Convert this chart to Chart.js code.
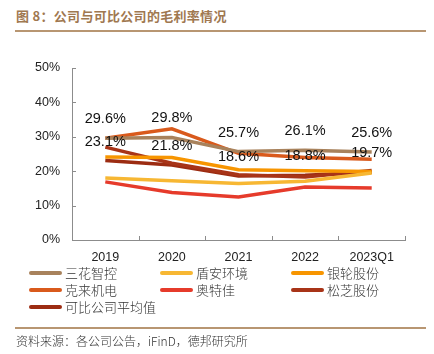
<!DOCTYPE html>
<html>
<head>
<meta charset="utf-8">
<script src="https://cdn.jsdelivr.net/npm/chart.js@4.4.1/dist/chart.umd.min.js"></script>
<style>
  body { margin: 0; background: #fff; }
  #page { position: relative; width: 434px; height: 354px; overflow: hidden; font-family: "Noto Sans CJK SC", sans-serif; }
  #title { position: absolute; left: 16px; top: 6px; font-size: 13px; color: #a07850; font-weight: bold; letter-spacing: 0.3px; }
  .rule { position: absolute; left: 15px; width: 411px; height: 2px; background: #b89672; }
  #chart { position: absolute; left: 0; top: 42px; }
  #legend { position: absolute; left: 0; top: 264px; width: 434px; }
  .item { position: absolute; font-size: 13px; color: #333; line-height: 17px; height: 17px; white-space: nowrap; font-weight: 300; }
  .item .sw { position: absolute; left: 0; top: 7px; width: 33px; height: 4px; border-radius: 2px; }
  .item span { position: absolute; left: 36px; top: 0; }
  #source { position: absolute; left: 16px; top: 332px; font-size: 12px; color: #333; font-weight: 300; }
</style>
</head>
<body>
<div id="page">
  <div id="title">图 8：公司与可比公司的毛利率情况</div>
  <div class="rule" style="top:30px"></div>
  <canvas id="chart" width="434" height="225"></canvas>
  <div id="legend"></div>
  <div class="rule" style="top:327px"></div>
  <div id="source">资料来源：各公司公告，iFinD，德邦研究所</div>
</div>
<script>
// categories
var years = ['2019', '2020', '2021', '2022', '2023Q1'];
var yTicks = [0, 10, 20, 30, 40, 50];

// gross margin (%)
var sanhua  = [29.6, 29.8, 25.7, 26.1, 25.6];
var dunan   = [18.0, 17.2, 16.4, 17.1, 19.5];
var yinlun  = [24.1, 24.0, 20.4, 20.1, 19.9];
var kelai   = [29.6, 32.3, 25.2, 24.0, 23.5];
var aotejia = [16.9, 13.8, 12.5, 15.4, 15.1];
var songzhi = [27.0, 22.3, 19.0, 18.3, 20.2];
var average = [23.1, 21.8, 18.6, 18.8, 19.7];

var names  = ['三花智控', '盾安环境', '银轮股份', '克来机电', '奥特佳', '松芝股份', '可比公司平均值'];
var colors = ['#a8825c', '#f7b733', '#f79500', '#d95a1c', '#e63b2b', '#a83418', '#9c2c12'];
var series = [sanhua, dunan, yinlun, kelai, aotejia, songzhi, average];
var labelled = [0, 6]; // series that show value labels

var datasets = [];
for (var i = 0; i < series.length; i++) {
    datasets.push({
        label: names[i],
        data: series[i],
        borderColor: colors[i],
        backgroundColor: colors[i],
        borderWidth: 3.5,
        pointRadius: 0,
        tension: 0,
        fill: false
    });
}

// legend, 3 columns
var legend = document.getElementById('legend');
var colX = [29, 160, 291];
for (var i = 0; i < names.length; i++) {
    var d = document.createElement('div');
    d.className = 'item';
    d.style.left = colX[i % 3] + 'px';
    d.style.top = (Math.floor(i / 3) * 17) + 'px';
    d.innerHTML = "<div class='sw' style='background:" + colors[i] + "'></div><span>" + names[i] + "</span>";
    legend.appendChild(d);
}

// inner tick marks + value labels
var extras = {
    id: 'extras',
    afterDraw: function(chart) {
        var ctx = chart.ctx;
        var x = chart.scales.x, y = chart.scales.y;
        ctx.save();
        ctx.strokeStyle = '#8c8c8c';
        ctx.lineWidth = 1;
        ctx.beginPath();
        yTicks.forEach(function(v) {
            var py = Math.round(y.getPixelForValue(v)) + 0.5;
            ctx.moveTo(x.left, py);
            ctx.lineTo(x.left + 4, py);
        });
        var w = (x.right - x.left) / years.length;
        for (var k = 1; k <= years.length; k++) {
            var px = Math.round(x.left + k * w) + 0.5;
            ctx.moveTo(px, y.bottom);
            ctx.lineTo(px, y.bottom - 4);
        }
        ctx.stroke();

        ctx.fillStyle = '#111';
        ctx.font = '14.5px "Liberation Sans", Arial, sans-serif';
        ctx.textAlign = 'center';
        ctx.textBaseline = 'middle';
        labelled.forEach(function(s) {
            series[s].forEach(function(v, j) {
                ctx.fillText(v.toFixed(1) + '%', x.getPixelForValue(j), y.getPixelForValue(v) - 19);
            });
        });
        ctx.restore();
    }
};

var tickFont = { family: '"Liberation Sans", Arial, sans-serif', size: 12.5 };

new Chart(document.getElementById('chart').getContext('2d'), {
    type: 'line',
    data: { labels: years, datasets: datasets },
    options: {
        responsive: false,
        animation: false,
        devicePixelRatio: 1,
        layout: { padding: { top: 26, right: 29, left: 0, bottom: 0 } },
        plugins: { legend: { display: false }, tooltip: { enabled: false } },
        scales: {
            x: {
                offset: true,
                grid: { display: false, drawTicks: false },
                border: { display: true, color: '#8c8c8c', width: 1 },
                ticks: { color: '#222', font: tickFont, padding: 10, maxRotation: 0 },
                afterFit: function(s) { s.height = 27; }
            },
            y: {
                min: 0, max: 50,
                grid: { display: false, drawTicks: false },
                border: { display: true, color: '#8c8c8c', width: 1 },
                ticks: { stepSize: 10, color: '#222', font: tickFont, padding: 12,
                         callback: function(v) { return v + '%'; } },
                afterFit: function(s) { s.width = 72; }
            }
        }
    },
    plugins: [extras]
});
</script>
</body>
</html>
